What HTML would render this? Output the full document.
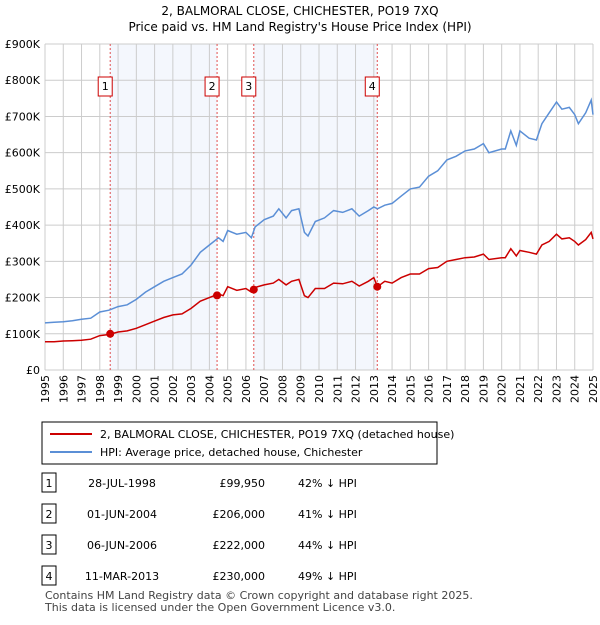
<!DOCTYPE html>
<html><head><meta charset="utf-8"><style>
body{margin:0;background:#fff;font-family:"Liberation Sans","DejaVu Sans",sans-serif;}
svg text{font-family:"DejaVu Sans","Liberation Sans",sans-serif;}
</style></head><body>
<svg width="600" height="620" xmlns="http://www.w3.org/2000/svg">
<text x="300" y="15" text-anchor="middle" font-size="12">2, BALMORAL CLOSE, CHICHESTER, PO19 7XQ</text>
<text x="300" y="31" text-anchor="middle" font-size="12">Price paid vs. HM Land Registry's House Price Index (HPI)</text>
<g id="plot"></g>
<rect x="42" y="422" width="395" height="42" fill="#fff" stroke="#000" stroke-width="1"/>
<line x1="50" y1="434" x2="92" y2="434" stroke="#cc0000" stroke-width="2"/>
<text x="100" y="438" font-size="11">2, BALMORAL CLOSE, CHICHESTER, PO19 7XQ (detached house)</text>
<line x1="50" y1="452" x2="92" y2="452" stroke="#5b8fd6" stroke-width="2"/>
<text x="100" y="456" font-size="11">HPI: Average price, detached house, Chichester</text>
<g id="table" font-size="11"></g>
<text x="45" y="599" font-size="11" fill="#444">Contains HM Land Registry data © Crown copyright and database right 2025.</text>
<text x="45" y="611" font-size="11" fill="#444">This data is licensed under the Open Government Licence v3.0.</text>
</svg>
<script>
const hpiT=[1995,1995.5,1996,1996.5,1997,1997.5,1998,1998.5,1999,1999.5,2000,2000.5,2001,2001.5,2002,2002.5,2003,2003.5,2004,2004.5,2004.75,2005,2005.5,2006,2006.3,2006.5,2007,2007.5,2007.8,2008.2,2008.5,2008.9,2009.2,2009.4,2009.8,2010.3,2010.8,2011.3,2011.8,2012.2,2012.7,2013,2013.2,2013.6,2014,2014.5,2015,2015.5,2016,2016.5,2017,2017.5,2018,2018.5,2019,2019.3,2020,2020.2,2020.5,2020.8,2021,2021.5,2021.9,2022.2,2022.6,2023,2023.3,2023.7,2024,2024.2,2024.6,2024.9,2025];
const hpiV=[130,132,133,136,140,143,160,165,175,180,195,215,230,245,255,265,290,325,345,365,355,385,375,380,365,395,415,425,445,420,440,445,380,370,410,420,440,435,445,425,440,450,445,455,460,480,500,505,535,550,580,590,605,610,625,600,610,610,660,620,660,640,635,680,710,740,720,725,705,680,710,745,705];
const redV=[78,78,80,81,82,85,95,98,105,108,115,125,135,145,152,155,170,190,200,210,205,230,220,225,215,228,235,240,250,235,245,250,205,200,225,225,240,238,245,232,245,255,230,245,240,255,265,265,280,283,300,305,310,312,320,305,310,310,335,315,330,325,320,345,355,375,362,365,355,345,360,380,362];
const saleT=[1998.57,2004.42,2006.43,2013.19];
const saleV=[99.95,206,222,230];
const saleLbl=["1","2","3","4"];
const saleDate=["28-JUL-1998","01-JUN-2004","06-JUN-2006","11-MAR-2013"];
const salePrice=["£99,950","£206,000","£222,000","£230,000"];
const saleHpi=["42% ↓ HPI","41% ↓ HPI","44% ↓ HPI","49% ↓ HPI"];
const yTicks=[0,100,200,300,400,500,600,700,800,900];
const yLbl=["£0","£100K","£200K","£300K","£400K","£500K","£600K","£700K","£800K","£900K"];
const x0=45,x1=593,y0=370,y1=44;
const X=t=>x0+(t-1995)/30*(x1-x0);
const Y=v=>y0-v/900*(y0-y1);
const NS="http://www.w3.org/2000/svg";
const g=document.getElementById('plot');
function mk(tag,at,parent){const e=document.createElementNS(NS,tag);for(const k in at)e.setAttribute(k,at[k]);(parent||g).appendChild(e);return e;}
for(let i=0;i<saleT.length;i+=2){const b=i+1<saleT.length?saleT[i+1]:2025;
const r=mk('rect',{x:X(saleT[i]),y:y1,width:X(b)-X(saleT[i]),height:y0-y1,fill:'#f4f7fd'});

}
for(let y=1995;y<=2025;y++){const l=mk('line',{x1:X(y),x2:X(y),y1:y1,y2:y0,stroke:'#ccc','stroke-width':1});


const t=mk('text',{x:0,y:0,'font-size':11,'text-anchor':'end',transform:`translate(${X(y)+4},${y0+5}) rotate(-90)`});t.textContent=y;

}
yTicks.forEach((v,i)=>{const l=mk('line',{x1:x0,x2:x1,y1:Y(v),y2:Y(v),stroke:'#ccc','stroke-width':1});


const t=mk('text',{x:40,y:Y(v)+4,'font-size':11,'text-anchor':'end'});t.textContent=yLbl[i];

});
saleT.forEach((t,i)=>{const l=mk('line',{x1:X(t),x2:X(t),y1:y1,y2:y0,stroke:'#e05050','stroke-width':1,'stroke-dasharray':'2,2'});


const r=mk('rect',{x:X(t)-12,y:77,width:14,height:19,fill:'#fff',stroke:'#cc0000'});


const tx=mk('text',{x:X(t)-5,y:90,'font-size':11,'text-anchor':'middle'});tx.textContent=saleLbl[i];

});
const pts=a=>hpiT.map((t,i)=>X(t).toFixed(1)+','+Y(a[i]).toFixed(1)).join(' ');
const hl=mk('polyline',{points:pts(hpiV),fill:'none',stroke:'#5b8fd6','stroke-width':1.5});


const rl=mk('polyline',{points:pts(redV),fill:'none',stroke:'#cc0000','stroke-width':1.5});


saleT.forEach((t,i)=>{const c=mk('circle',{cx:X(t),cy:Y(saleV[i]),r:4,fill:'#cc0000'});

});
const tb=document.getElementById('table');
saleT.forEach((t,i)=>{const y=483+i*31;
const r=mk('rect',{x:42,y:y-10,width:14,height:19,fill:'#fff',stroke:'#000'},tb);


const cells=[[49,'middle',saleLbl[i]],[122,'middle',saleDate[i]],[265,'end',salePrice[i]],[298,'start',saleHpi[i]]];
cells.forEach(c=>{const e=mk('text',{x:c[0],y:y+4,'text-anchor':c[1]},tb);e.textContent=c[2];

});});
</script>
</body></html>
